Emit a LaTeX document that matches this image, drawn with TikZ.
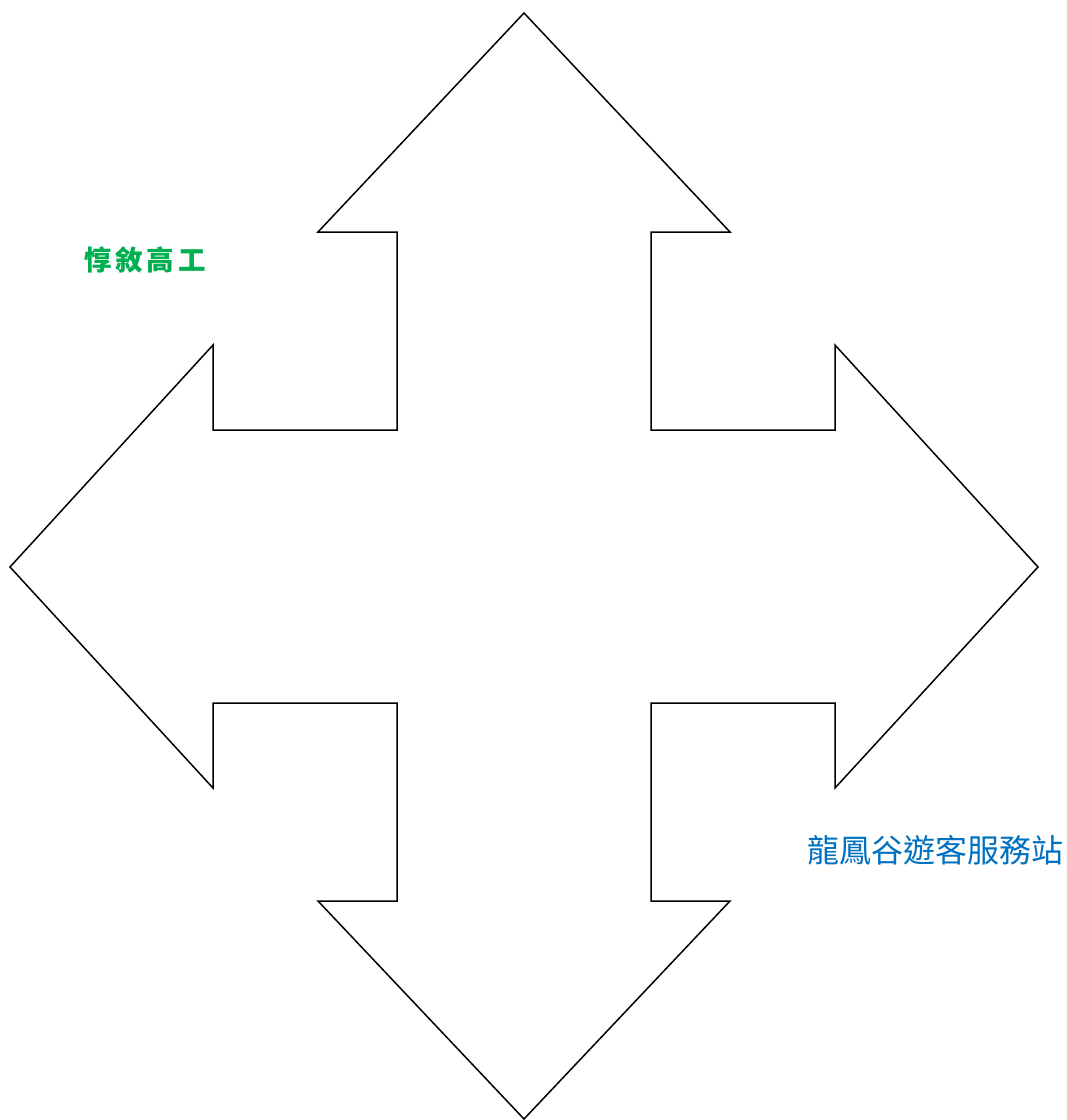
\documentclass[tikz,border=0pt]{standalone}
\usepackage{fontspec}
\newfontfamily\cjk{Noto Sans CJK TC}
\definecolor{lbgreen}{RGB}{0,176,80}
\definecolor{lbblue}{RGB}{0,112,192}
\begin{document}
\begin{tikzpicture}[x=1pt,y=-1pt,
  arrowshape/.style={draw=black,line width=1.5pt,line join=miter},
  lbl/.style={inner sep=0pt,anchor=center}]
\useasboundingbox (0,0) rectangle (1067,1120);
\draw[arrowshape] (524,13) -- (730,232) -- (651,232) -- (651,430) -- (835,430) -- (835,345)
  -- (1038,567) -- (835,788) -- (835,703) -- (651,703) -- (651,901) -- (730,901)
  -- (524,1119) -- (318,901) -- (397,901) -- (397,703) -- (213,703) -- (213,788)
  -- (10,567) -- (213,345) -- (213,430) -- (397,430) -- (397,232) -- (318,232) -- cycle;
\node[lbl,text=lbgreen,font=\cjk\bfseries\fontsize{27.5}{32}\selectfont] (t1) at (145,260) {惇\hspace{4pt}敘\hspace{4pt}高\hspace{4pt}工};
\node[lbl,text=lbblue,font=\cjk\fontsize{32}{37}\selectfont] (t2) at (935,850) {龍鳳谷遊客服務站};
\end{tikzpicture}
\end{document}
